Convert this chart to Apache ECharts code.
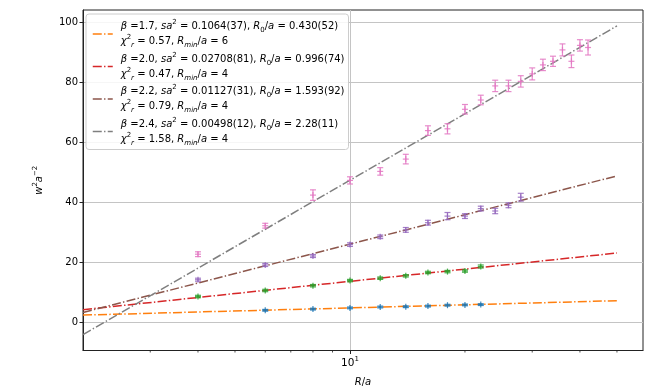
<!DOCTYPE html>
<html>
<head>
<meta charset="utf-8">
<script src="https://cdn.jsdelivr.net/npm/echarts@6/dist/echarts.min.js"></script>
<style>
  html, body { margin: 0; padding: 0; background: #fff; }
  #main { width: 664px; height: 392px; }
</style>
</head>
<body>
<div id="main"></div>
<script>
  // R/a values and measured w^2 a^-2 (with errors) for each beta
  var r17 = [6, 8, 10, 12, 14, 16, 18, 20, 22]
  var w17 = [3.9, 4.3, 4.7, 5.0, 5.1, 5.3, 5.6, 5.7, 5.8]
  var e17 = [0.3, 0.3, 0.3, 0.3, 0.3, 0.3, 0.3, 0.3, 0.3]

  var r20 = [4, 6, 8, 10, 12, 14, 16, 18, 20, 22]
  var w20 = [8.5, 10.5, 12.1, 13.8, 14.6, 15.4, 16.5, 16.8, 17.0, 18.5]
  var e20 = [0.4, 0.4, 0.4, 0.4, 0.4, 0.4, 0.4, 0.4, 0.4, 0.5]

  var r22 = [4, 6, 8, 10, 12, 14, 16, 18, 20, 22, 24, 26, 28]
  var w22 = [14.1, 19.0, 22.0, 25.8, 28.4, 30.7, 33.1, 35.3, 35.3, 37.8, 37.0, 38.9, 41.6]
  var e22 = [0.5, 0.5, 0.5, 0.6, 0.6, 0.8, 0.8, 1.2, 0.8, 0.8, 0.9, 0.8, 1.3]

  var r24 = [4, 6, 8, 10, 12, 14, 16, 18, 20, 22, 24, 26, 28, 30, 32, 34, 36, 38, 40, 42]
  var w24 = [22.6, 32.1, 42.3, 47.2, 50.2, 54.3, 63.8, 64.4, 70.9, 74.0, 78.7, 78.7, 80.2, 82.7, 85.7, 86.9, 90.7, 86.9, 92.2, 91.5]
  var e24 = [0.8, 0.8, 1.75, 1.2, 1.25, 1.6, 1.6, 1.7, 1.6, 1.6, 1.9, 1.9, 1.9, 2.0, 1.9, 1.7, 2.0, 2.1, 1.9, 2.5]

  // fit lines (straight in log R), end points
  var fitR = [2, 50]
  var fit17 = [2.3, 7.1]
  var fit20 = [4.1, 23.0]
  var fit22 = [3.2, 48.7]
  var fit24 = [-4.2, 98.7]

  var xTicks = [10]
  var minorTicks = [3, 4, 5, 6, 7, 8, 9, 20, 30, 40, 50]
  var yTicks = [0, 20, 40, 60, 80, 100]
  var xMin = 2, xMax = 58.5
  var yMin = -9.5, yMax = 104

  var legendText = {
    fit17: '{i|β} =1.7, {i|sa}{sp|2} = 0.1064(37), {i|R}{sb|0}/{i|a} = 0.430(52)\n{i|χ}{sp|2}{isb|r} = 0.57, {i|R}{isb|min}/{i|a} = 6',
    fit20: '{i|β} =2.0, {i|sa}{sp|2} = 0.02708(81), {i|R}{sb|0}/{i|a} = 0.996(74)\n{i|χ}{sp|2}{isb|r} = 0.47, {i|R}{isb|min}/{i|a} = 4',
    fit22: '{i|β} =2.2, {i|sa}{sp|2} = 0.01127(31), {i|R}{sb|0}/{i|a} = 1.593(92)\n{i|χ}{sp|2}{isb|r} = 0.79, {i|R}{isb|min}/{i|a} = 4',
    fit24: '{i|β} =2.4, {i|sa}{sp|2} = 0.00498(12), {i|R}{sb|0}/{i|a} = 2.28(11)\n{i|χ}{sp|2}{isb|r} = 1.58, {i|R}{isb|min}/{i|a} = 4'
  }

  var font = 'DejaVu Sans'
  var dash = [9, 2.3, 1.4, 2.3]
  var rich = {
    n: { fontFamily: font, fontSize: 10, lineHeight: 15 },
    i: { fontFamily: font, fontSize: 10, fontStyle: 'italic', lineHeight: 15 },
    big: { fontFamily: font, fontSize: 10.5, lineHeight: 15 },
    sp: { fontFamily: font, fontSize: 7, verticalAlign: 'top', lineHeight: 9 },
    sb: { fontFamily: font, fontSize: 7, verticalAlign: 'bottom', lineHeight: 9 },
    isb: { fontFamily: font, fontSize: 7, fontStyle: 'italic', verticalAlign: 'bottom', lineHeight: 9 }
  }

  function pts(r, w, e) {
    var out = []
    for (var i = 0; i < r.length; i++) out.push([r[i], w[i], e[i]])
    return out
  }
  function fitData(f) {
    return [[fitR[0], f[0]], [fitR[1], f[1]]]
  }

  function errRender(color) {
    return function (params, api) {
      var x = api.value(0), y = api.value(1), e = api.value(2)
      var c = api.coord([x, y])
      var t = api.coord([x, y + e])
      var b = api.coord([x, y - e])
      var st = { stroke: color, lineWidth: 1.2, opacity: 0.85 }
      var cap = 3, m = 3
      return {
        type: 'group',
        children: [
          { type: 'line', shape: { x1: t[0], y1: t[1], x2: b[0], y2: b[1] }, style: st },
          { type: 'line', shape: { x1: t[0] - cap, y1: t[1], x2: t[0] + cap, y2: t[1] }, style: st },
          { type: 'line', shape: { x1: b[0] - cap, y1: b[1], x2: b[0] + cap, y2: b[1] }, style: st },
          { type: 'line', shape: { x1: c[0] - m, y1: c[1], x2: c[0] + m, y2: c[1] }, style: st },
          { type: 'line', shape: { x1: c[0], y1: c[1] - m, x2: c[0], y2: c[1] + m }, style: st }
        ]
      }
    }
  }

  function fitSeries(name, data, color) {
    return {
      name: name,
      type: 'line',
      data: fitData(data),
      symbol: 'none',
      silent: true,
      z: 2,
      lineStyle: { color: color, width: 1.5, type: dash },
      itemStyle: { color: color }
    }
  }

  function errSeries(r, w, e, color) {
    return {
      type: 'custom',
      data: pts(r, w, e),
      renderItem: errRender(color),
      encode: { x: 0, y: 1 },
      silent: true,
      z: 5
    }
  }

  var chart = echarts.init(document.getElementById('main'))
  var option = {
    animation: false,
    grid: {
      left: 83, right: 21, top: 10, bottom: 35.5,
      show: true, borderColor: '#222', borderWidth: 1
    },
    legend: {
      data: ['fit17', 'fit20', 'fit22', 'fit24'],
      orient: 'vertical',
      left: 86, top: 14,
      padding: [5, 4, 3, 6],
      itemWidth: 20, itemHeight: 12, itemGap: 2.5,
      itemStyle: { opacity: 0 },
      lineStyle: { width: 1.5, type: dash },
      backgroundColor: 'rgba(255,255,255,0.85)',
      borderColor: '#cccccc', borderWidth: 1, borderRadius: 3,
      selectedMode: false,
      formatter: function (name) { return legendText[name] },
      textStyle: { fontFamily: font, fontSize: 10, color: '#000', lineHeight: 15, padding: [0, 0, 0, 3], rich: rich }
    },
    xAxis: {
      type: 'log',
      logBase: 10,
      min: xMin, max: xMax,
      name: '{i|R}/{i|a}',
      nameLocation: 'middle',
      nameGap: 24,
      nameTextStyle: { fontFamily: font, fontSize: 10, color: '#000', rich: rich },
      axisLine: { onZero: false, lineStyle: { color: '#222', width: 1 } },
      axisTick: { length: 3.5, inside: false, customValues: xTicks, lineStyle: { color: '#222' } },
      axisLabel: {
        margin: 5,
        customValues: xTicks,
        fontFamily: font, fontSize: 10.5, color: '#000',
        formatter: function (v) { return Math.abs(v - 10) < 1e-6 ? '{big|10}{sp|1}' : '' },
        rich: rich
      },
      splitLine: { show: true, lineStyle: { color: '#c4c4c4', width: 1 } }
    },
    yAxis: {
      type: 'value',
      min: yMin, max: yMax,
      name: '{i|w}{sp|2}{i|a}{sp|−2}',
      nameLocation: 'middle',
      nameRotate: 90,
      nameGap: 36,
      nameTextStyle: { fontFamily: font, fontSize: 10, color: '#000', rich: rich },
      axisLine: { show: true, onZero: false, lineStyle: { color: '#222', width: 1 } },
      axisTick: { show: true, length: 3.5, customValues: yTicks, lineStyle: { color: '#222' } },
      axisLabel: {
        margin: 5,
        customValues: yTicks,
        fontFamily: font, fontSize: 10, color: '#000',
        formatter: function (v) { return Math.abs(v % 20) < 1e-6 ? String(Math.round(v)) : '' }
      },
      splitLine: { show: true, lineStyle: { color: '#c4c4c4', width: 1 } }
    },
    series: [
      fitSeries('fit17', fit17, '#ff7f0e'),
      fitSeries('fit20', fit20, '#d62728'),
      fitSeries('fit22', fit22, '#8c564b'),
      fitSeries('fit24', fit24, '#7f7f7f'),
      errSeries(r17, w17, e17, '#1f77b4'),
      errSeries(r20, w20, e20, '#2ca02c'),
      errSeries(r22, w22, e22, '#9467bd'),
      errSeries(r24, w24, e24, '#e377c2'),
      {
        // minor ticks of the log axis
        type: 'custom',
        data: minorTicks.map(function (v) { return [v, yMin] }),
        encode: { x: 0, y: 1 },
        silent: true,
        renderItem: function (params, api) {
          var p = api.coord([api.value(0), api.value(1)])
          return {
            type: 'line',
            shape: { x1: p[0], y1: p[1], x2: p[0], y2: p[1] + 2 },
            style: { stroke: '#222', lineWidth: 0.8 }
          }
        }
      }
    ]
  }
  chart.setOption(option)
</script>
</body>
</html>
